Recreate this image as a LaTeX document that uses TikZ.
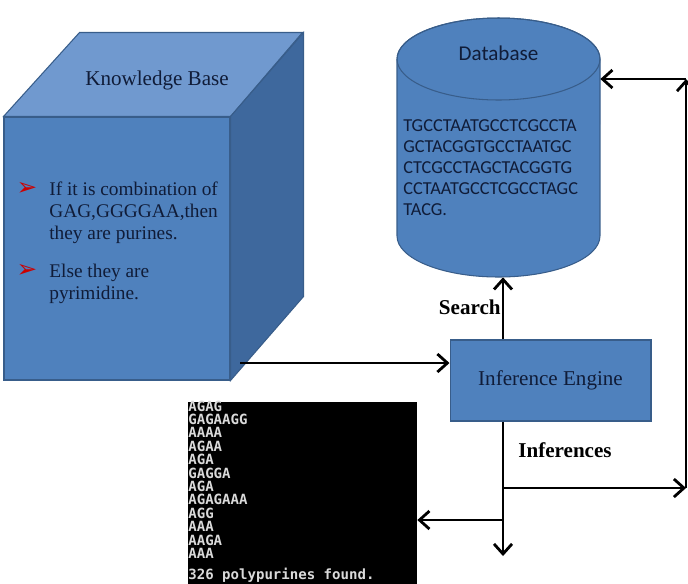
\documentclass[tikz,border=0pt]{standalone}
\usepackage{fontspec}
\setmainfont{Liberation Serif}
\newfontfamily\calibri{Carlito}
\newfontfamily\termfont{DejaVu Sans Mono}
\newfontfamily\dingfont{DejaVu Sans}
\usepackage{xcolor}
\usetikzlibrary{arrows.meta, positioning, calc}

\definecolor{kbfront}{RGB}{79,129,189}
\definecolor{kbtop}{RGB}{112,153,207}
\definecolor{kbside}{RGB}{62,104,157}
\definecolor{kbedge}{RGB}{56,93,138}
\definecolor{navy}{RGB}{16,28,56}
\definecolor{termgray}{RGB}{218,218,218}

\begin{document}
\begin{tikzpicture}[
      x=0.02cm, y=-0.02cm,
      face/.style={draw=kbedge, line width=0.6pt},
      box/.style={draw=kbedge, fill=kbfront, line width=0.6pt, align=center,
                  font=\fontsize{12}{14}\selectfont, text=navy, inner sep=0pt},
      kbtext/.style={align=left, text=navy, inner sep=0pt,
                     font=\fontsize{11}{12.5}\selectfont},
      bullet/.style={text=red!80!black, inner sep=0pt, font=\dingfont\fontsize{14}{16}\selectfont},
      lbl/.style={font=\fontsize{12}{14}\selectfont\bfseries, inner sep=0pt},
      term/.style={anchor=west, text=termgray, inner sep=0pt,
                   font=\termfont\bfseries\fontsize{8}{9}\selectfont},
      arr/.style={-{Straight Barb[length=2mm, width=3.6mm]}, line width=1.6pt}
    ]
    \useasboundingbox (0,0) rectangle (688,583);

    % knowledge base cube: front face is the node, top and side drawn from it
    \node[box, minimum width=4.52cm, minimum height=5.26cm] (kb) at (117,248.5) {};
    \filldraw[face, fill=kbtop] (kb.north west) -- ++(76,-84) -- ++(223,0)
      -- (kb.north east) -- cycle;
    \filldraw[face, fill=kbside] (kb.north east) -- ++(73,-84) -- ++(0,264)
      -- (kb.south east) -- cycle;
    \node[box, draw=none, fill=none] (kbtitle) at (157,80) {Knowledge Base};

    \node[kbtext, anchor=west] (rule1) at (49,212.5)
      {If it is combination of\\GAG,GGGGAA,then\\they are purines.};
    \node[kbtext, anchor=west] (rule2) at (49,283.5)
      {Else they are\\pyrimidine.};
    \node[bullet] (b1) at (27,189) {➢};
    \node[bullet] (b2) at (27,271) {➢};
    \coordinate (kbout) at (240,363);

    % database cylinder
    \filldraw[face, fill=kbfront] (397,59) -- (397,236)
      arc[start angle=180, end angle=360, x radius=2.03cm, y radius=0.82cm]
      -- (600,59) arc[start angle=0, end angle=180, x radius=2.03cm, y radius=0.82cm];
    \draw[face] (498.5,59) ellipse[x radius=2.03cm, y radius=0.82cm];
    \node[minimum width=4.06cm, minimum height=5.18cm, inner sep=0pt] (db) at (498.5,147.5) {};
    \node[text=navy, font=\calibri\fontsize{12}{14}\selectfont] (dbtitle) at (498.5,53) {Database};
    \node[anchor=west, align=left, text=navy, inner sep=0pt,
          font=\calibri\fontsize{10.4}{11.95}\selectfont] (seq) at (403,167.5)
      {TGCCTAATGCCTCGCCTA\\GCTACGGTGCCTAATGC\\CTCGCCTAGCTACGGTG\\CCTAATGCCTCGCCTAGC\\TACG.};

    % inference engine
    \node[box, minimum width=4.02cm, minimum height=1.62cm] (ie) at (550.5,380.5) {Inference Engine};

    % program output window
    \begin{scope}
      \clip (0,0) rectangle (688,583);
      \node[fill=black, minimum width=4.58cm, minimum height=4cm, inner sep=0pt] (win) at (302.5,502) {};
      \foreach \seqline [count=\i] in {AGAG,GAGAAGG,AAAA,AGAA,AGA,GAGGA,AGA,AGAGAAA,AGG,AAA,AAGA,AAA}
        \node[term] (out\i) at (188,{406+13.4*(\i-1)}) {\seqline};
      \node[term] (count) at (188,575) {326 polypurines found.};
    \end{scope}

    % connectors
    \coordinate (trunk) at (503,488);
    \coordinate (split) at (503,520);
    \coordinate (down) at (503,556);
    \coordinate (rbot) at (686,488);
    \coordinate (rtop) at (686,79);

    \draw[arr] (kbout) -- (ie.west |- kbout);
    \draw[arr] (ie.north -| trunk) -- (db.south -| trunk);
    \draw[arr] (ie.south -| trunk) -- (down);
    \draw[arr] (trunk) -- (rbot);
    \draw[arr] (rbot) -- (rtop);
    \draw[arr] (rtop) -- (db.east |- rtop);
    \draw[arr] (split) -- (win.east |- split);

    \node[lbl, anchor=east] (search) at (501,307) {Search};
    \node[lbl] (infer) at (565,450) {Inferences};
  \end{tikzpicture}
\end{document}
